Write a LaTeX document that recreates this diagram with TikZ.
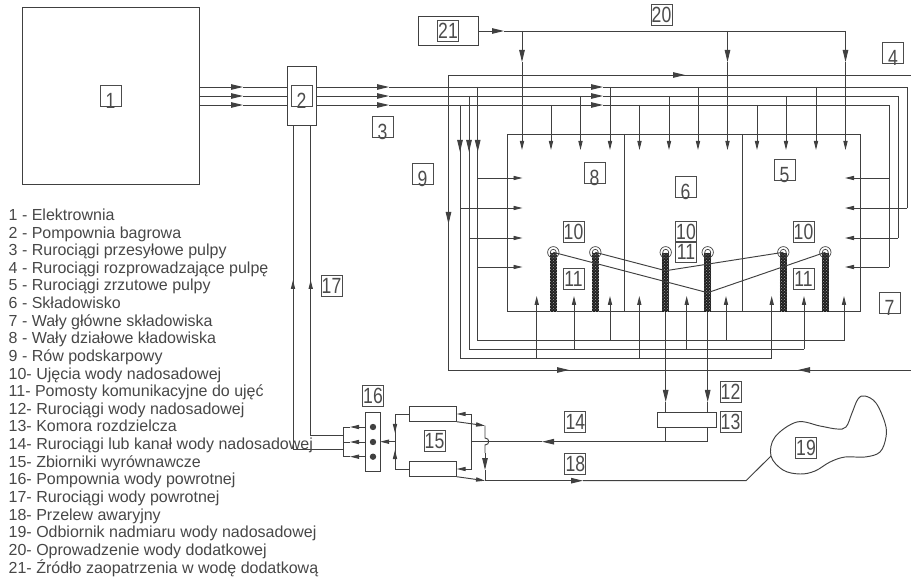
\documentclass[tikz,border=0pt]{standalone}
\usepackage{fontspec}
\usepackage{graphicx}
\setmainfont{Liberation Sans}
\usetikzlibrary{arrows.meta,patterns}
\newcommand{\lownum}[1]{\raisebox{-5pt}[16pt][0pt]{\scalebox{.8}[1]{#1}}}
\newcommand{\upnum}[1]{\raisebox{0pt}[16pt][0pt]{\scalebox{.8}[1]{#1}}}
\tikzset{
	pipe/.style={draw=black!75, line width=0.95pt},
	bigtip/.style={-{Stealth[length=12pt,width=5.5pt,inset=0pt]}},
	smalltip/.style={-{Stealth[length=9pt,width=4.2pt,inset=0pt]}},
	numbox/.style={draw=black!70, line width=0.7pt, minimum size=21pt, inner sep=0pt, font=\fontsize{22}{22}\selectfont, text=black!70},
	unit/.style={draw=black!75, line width=0.95pt, inner sep=0pt},
	pomost/.style={fill=black!88},
	legend/.style={anchor=base west, inner sep=0pt, font=\fontsize{16}{17}\selectfont, text=black!72}
}
\begin{document}
\begin{tikzpicture}[x=1pt, y=-1pt]
	\useasboundingbox (0,0) rectangle (911,577);
	% Elektrownia, pompownia, zrodlo
	\draw[unit] (22,7) rectangle (199,184);
	\draw[unit] (287,66) rectangle (316,125);
	\draw[unit] (418,16) rectangle (478,45);
	% Rurociagi przesylowe
	\foreach \y in {87,96,105} {
		\draw[pipe, bigtip] (199,\y) -- (243,\y);
		\draw[pipe] (243,\y) -- (287,\y);
		\draw[pipe, bigtip] (316,\y) -- (389,\y);
		\draw[pipe, bigtip] (389,\y) -- (603,\y);
	}
	\draw[pipe] (603,87) -- (907,87) -- (907,208);
	\draw[pipe] (603,96) -- (898,96) -- (898,238);
	\draw[pipe] (603,105) -- (889,105) -- (889,267);
	% Skladowisko
	\draw[pipe] (507,134) rectangle (860,311.6);
	\draw[pipe] (624.7,134) -- (624.7,311.6) (742.5,134) -- (742.5,311.6);
	% Rozprowadzenie po lewej
	\draw[pipe] (460,105) -- (460,358) -- (771.7,358);
	\draw[pipe] (469,96) -- (469,349.5) -- (804,349.5);
	\draw[pipe] (477.7,87) -- (477.7,340.7) -- (844,340.7);
	\foreach \x in {460,469,477.7}
		\draw[pipe, bigtip] (\x,105) -- (\x,152);
	% Zrzuty z gory
	\foreach \x/\y in {551/105,580.5/96,610/87,639.5/105,669/96,698/87,757/105,786/96,816/87}
		\draw[pipe, smalltip] (\x,\y) -- (\x,150);
	% Zrzuty z dolu
	\foreach \x/\y in {536.7/358,574/349.5,610/340.7,639.3/358,686.7/349.5,726/340.7,771.7/358,804/349.5,844/340.7}
		\draw[pipe, smalltip] (\x,\y) -- (\x,296);
	% Zrzuty z bokow
	\foreach \x/\y in {477.7/178,460/208,469/238,477.7/267}
		\draw[pipe, smalltip] (\x,\y) -- (522.5,\y);
	\foreach \x/\y in {889/178,907/208,898/238,889/267}
		\draw[pipe, smalltip] (\x,\y) -- (845,\y);
	% Woda dodatkowa
	\draw[pipe, bigtip] (478,31) -- (504,31);
	\draw[pipe] (504,31) -- (845.5,31);
	\foreach \x in {522,727.5,845.5} {
		\draw[pipe, bigtip] (\x,31) -- (\x,62);
		\draw[pipe, smalltip] (\x,62) -- (\x,150);
	}
	% Row podskarpowy
	\draw[pipe] (911,75) -- (448.5,75) -- (448.5,370) -- (911,370);
	\draw[pipe, bigtip] (660,75) -- (685,75);
	\draw[pipe, bigtip] (448.5,200) -- (448.5,224);
	\draw[pipe, bigtip] (540,370) -- (569,370);
	\draw[pipe, bigtip] (830,370) -- (798,370);
	% Pomosty i ujecia
	\foreach \x in {553.3,595.3,665.7,707.7,783.3,825.3} {
		\fill[pomost] (\x-3.5,253) rectangle (\x+3.5,311.6);
		\fill[pattern=crosshatch dots, pattern color=black!35] (\x-3.5,253) rectangle (\x+3.5,311.6);
		\draw[pipe, line width=0.7pt] (\x,252.3) circle (5.7pt) circle (3pt);
	}
	\coordinate (V1) at (707.7,292.7);
	\coordinate (V2) at (665.7,270.7);
	\draw[pipe] (553.3,252.3) -- (V1) -- (825.3,252.3);
	\draw[pipe] (595.3,252.3) -- (V2) -- (783.3,252.3);
	% Woda nadosadowa do komory
	\draw[unit] (657,412) rectangle (716,427);
	\foreach \x in {665.7,707.7} {
		\draw[pipe] (\x,311.6) -- (\x,388);
		\draw[pipe, bigtip] (\x,388) -- (\x,402);
		\draw[pipe] (\x,402) -- (\x,412);
	}
	\draw[pipe] (665.7,427) -- (665.7,441.7) (707.7,427) -- (707.7,441.7);
	\draw[pipe] (707.7,441.7) -- (555,441.7);
	\draw[pipe, bigtip] (555,441.7) -- (542,441.7);
	\draw[pipe] (542,441.7) -- (471.7,441.7);
	% Zbiorniki wyrownawcze
	\draw[unit] (409,406.7) rectangle (456.7,421.7);
	\draw[unit] (409,461.7) rectangle (456.7,476.7);
	\draw[pipe] (471.7,414) -- (471.7,469);
	\draw[pipe, smalltip] (471.7,414) -- (456.7,414);
	\draw[pipe, smalltip] (471.7,469) -- (456.7,469);
	\draw[pipe] (409,414) -- (395,414) -- (395,469) -- (409,469);
	\draw[pipe, smalltip] (395,424) -- (395,433);
	\draw[pipe, smalltip] (395,459) -- (395,450);
	\draw[pipe, smalltip] (395,441.7) -- (380,441.7);
	% Przelew awaryjny
	\draw[pipe, smalltip] (456.7,421.7) -- (485,425.7);
	\draw[pipe] (485,425.7) -- (485,438) .. controls (490,438) and (490,445) .. (485,445) -- (485,453);
	\draw[pipe, bigtip] (485,453) -- (485,470);
	\draw[pipe] (485,470) -- (485,480.7);
	\draw[pipe, smalltip] (456.7,476.7) -- (485,480.7);
	\draw[pipe] (485,480.7) -- (570,480.7);
	\draw[pipe, bigtip] (570,480.7) -- (583,480.7);
	\draw[pipe] (583,480.7) -- (746,480.7) -- (771,456);
	% Odbiornik
	\draw[pipe] plot[smooth cycle, tension=0.6] coordinates {(771,456) (775,437) (797,422) (820,426) (837,429) (846,427) (852,413) (858,399) (865,396) (876,403) (885,423) (886,437) (880,452) (865,457) (845,457) (830,462) (815,471) (800,474) (783,470)};
	% Pompownia wody powrotnej
	\draw[unit] (365,412) rectangle (380,471);
	\foreach \y in {427,442,456.7} {
		\fill[black!75] (373,\y) circle (3.2pt);
		\draw[pipe, smalltip] (366,\y) -- (350,\y);
		\draw[pipe] (350,\y) -- (343,\y);
	}
	\draw[pipe] (343,427) -- (343,456.7);
	\draw[pipe] (343,435) -- (310.7,435) -- (310.7,125);
	\draw[pipe] (343,449) -- (293,449) -- (293,125);
	\foreach \x in {293,310.7}
		\draw[pipe, smalltip] (\x,300) -- (\x,280);
	% Numery
	\node[numbox] (n1) at (110.5,95.5) {\lownum{1}};
	\node[numbox] (n2) at (301.5,95.5) {\lownum{2}};
	\node[numbox] (n3) at (382.5,127) {\lownum{3}};
	\node[numbox] (n4) at (893,53) {\lownum{4}};
	\node[numbox] (n5) at (784.5,169.5) {\lownum{5}};
	\node[numbox] (n6) at (685.5,187) {\lownum{6}};
	\node[numbox] (n7) at (889.5,303) {\lownum{7}};
	\node[numbox] (n8) at (594.5,172.5) {\lownum{8}};
	\node[numbox] (n9) at (422.5,173.5) {\lownum{9}};
	\node[numbox] (n10a) at (573.5,231.5) {\upnum{10}};
	\node[numbox] (n10b) at (686,231.5) {\upnum{10}};
	\node[numbox] (n10c) at (803.5,231.5) {\upnum{10}};
	\node[numbox] (n11a) at (573.5,278.5) {\upnum{11}};
	\node[numbox] (n11b) at (686,252) {\upnum{11}};
	\node[numbox] (n11c) at (803.5,278.5) {\upnum{11}};
	\node[numbox] (n12) at (730.5,391.5) {\upnum{12}};
	\node[numbox] (n13) at (730.5,422) {\upnum{13}};
	\node[numbox] (n14) at (575.3,422) {\upnum{14}};
	\node[numbox] (n15) at (434.5,440.5) {\upnum{15}};
	\node[numbox] (n16) at (373,395.5) {\upnum{16}};
	\node[numbox] (n17) at (331.5,285.5) {\upnum{17}};
	\node[numbox] (n18) at (575.3,463.5) {\upnum{18}};
	\node[numbox] (n19) at (806,448) {\upnum{19}};
	\node[numbox] (n20) at (661.5,15) {\upnum{20}};
	\node[numbox] (n21) at (448,31) {\upnum{21}};
	% Legenda
	\foreach \txt [count=\i] in {1 - Elektrownia, 2 - Pompownia bagrowa, 3 - Rurociągi przesyłowe pulpy, 4 - Rurociągi rozprowadzające pulpę, 5 - Rurociągi zrzutowe pulpy, 6 - Składowisko, 7 - Wały główne składowiska, 8 - Wały działowe kładowiska, 9 - Rów podskarpowy, 10- Ujęcia wody nadosadowej, 11- Pomosty komunikacyjne do ujęć, 12- Rurociągi wody nadosadowej, 13- Komora rozdzielcza, 14- Rurociągi lub kanał wody nadosadowej, 15- Zbiorniki wyrównawcze, 16- Pompownia wody powrotnej, 17- Rurociągi wody powrotnej, 18- Przelew awaryjny, 19- Odbiornik nadmiaru wody nadosadowej, 20- Oprowadzenie wody dodatkowej}
		\node[legend] (leg\i) at (8.5,{220.5+(\i-1)*17.62}) {\txt};
	\node[legend] (leg21) at (8.5,573.5) {21- Źródło zaopatrzenia w wodę dodatkową};
\end{tikzpicture}
\end{document}
